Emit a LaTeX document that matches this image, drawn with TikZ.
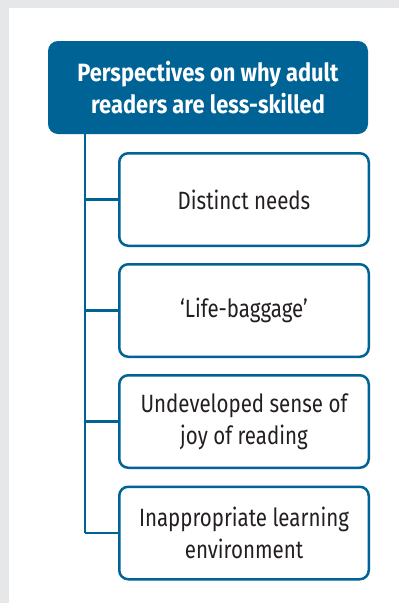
\documentclass[tikz,border=0pt]{standalone}
\usepackage{fontspec}
\setmainfont{Fira Sans}[FakeStretch=0.82]
\newfontfamily\hdrfont{Fira Sans}[FakeStretch=0.875]
\definecolor{hdrblue}{RGB}{0,99,150}
\definecolor{bggray}{RGB}{230,231,232}
\definecolor{txt}{RGB}{35,31,32}
\begin{document}
\begin{tikzpicture}[x=1pt,y=-1pt,
  hdr/.style={fill=hdrblue, draw=none, rounded corners=10pt, minimum width=320pt, minimum height=93pt, text=white, font=\hdrfont\fontsize{25}{32}\selectfont\bfseries, align=center, inner sep=0pt},
  item/.style={draw=hdrblue, line width=2.5pt, fill=white, rounded corners=9pt, minimum width=249.5pt, minimum height=92.5pt, text=txt, font=\fontsize{25}{32}\selectfont, align=center, inner sep=0pt},
  link/.style={draw=hdrblue, line width=2.5pt}]
  \fill[bggray] (0,0) rectangle (399,603);
  \fill[white] (9,8) rectangle (399,603);
  \useasboundingbox (0,0) rectangle (399,603);
  \node[hdr] (hdr) at (208,87.5) {Perspectives on why adult\\readers are less-skilled};
  \node[item] (b1) at (244,199.5) {Distinct needs};
  \node[item] (b2) at (244,310.5) {‘Life-baggage’};
  \node[item] (b3) at (244,421.5) {Undeveloped sense of\\joy of reading};
  \node[item] (b4) at (244,533) {Inappropriate learning\\environment};
  \coordinate (trunk) at (85,134);
  \draw[link] (trunk) -- (trunk |- b4.west);
  \foreach \b in {b1,b2,b3,b4}{
    \draw[link] (trunk |- \b.west) -- (\b.west);
  }
\end{tikzpicture}
\end{document}
